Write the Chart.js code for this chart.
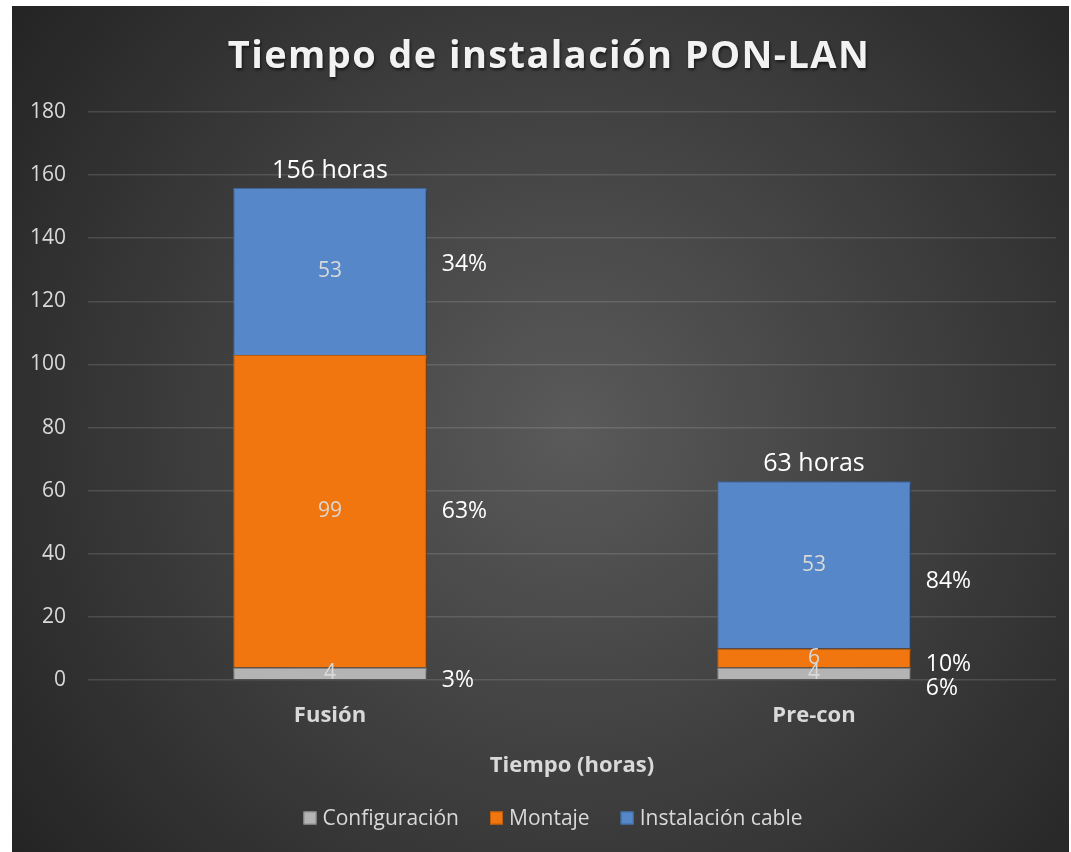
<!DOCTYPE html>
<html><head><meta charset="utf-8">
<script src="https://cdn.jsdelivr.net/npm/chart.js@4.4.1/dist/chart.umd.min.js"></script>
<style>html,body{margin:0;padding:0;background:#fff;}#wrap{position:absolute;left:12px;top:6px;width:1057px;height:846px;}</style>
</head><body><div id="wrap"><canvas id="c" width="1057" height="846"></canvas></div>
<script>
const chartTitle = 'Tiempo de instalación PON-LAN';
const axisTitle = 'Tiempo (horas)';
const categories = ['Fusión', 'Pre-con'];
const seriesNames = ['Configuración', 'Montaje', 'Instalación cable'];
const configuracion = [4, 4];
const montaje = [99, 6];
const instalacionCable = [53, 53];
const totalSuffix = ' horas';
const yMin = 0, yMax = 180, yStep = 20;

const seriesValues = [configuracion, montaje, instalacionCable];
const FONT = "'Open Sans', sans-serif";
const seriesStyle = [
  {bg: '#b4b4b4', border: '#8a8a8a'},
  {bg: '#f1760f', border: '#c0600c'},
  {bg: '#5587c9', border: '#3e6ca6'}
];
// per-category, per-series vertical nudges of the percentage labels (px)
const pctNudge = [[7, 0, -7], [15, 7, 17]];

const bgPlugin = {
  id: 'bg',
  beforeDraw(chart) {
    const {ctx, width, height} = chart;
    const cx = width * 0.53, cy = height * 0.5;
    const g = ctx.createRadialGradient(cx, cy, 0, cx, cy, 700);
    g.addColorStop(0, '#5a5a5a');
    g.addColorStop(1, '#242424');
    ctx.save();
    ctx.fillStyle = g;
    ctx.fillRect(0, 0, width, height);
    ctx.restore();
  },
  beforeDatasetsDraw(chart) {
    const ctx = chart.ctx;
    ctx.save();
    ctx.shadowColor = 'rgba(0,0,0,0.45)';
    ctx.shadowBlur = 4;
    ctx.shadowOffsetX = 2;
    ctx.shadowOffsetY = 2;
  },
  afterDatasetsDraw(chart) {
    const ctx = chart.ctx;
    ctx.restore();
    ctx.save();
    categories.forEach((cat, i) => {
      const total = seriesValues.reduce((s, arr) => s + arr[i], 0);
      seriesValues.forEach((arr, d) => {
        const el = chart.getDatasetMeta(d).data[i];
        const v = arr[i];
        const cy = (el.y + el.base) / 2;
        ctx.font = `21px ${FONT}`;
        ctx.fillStyle = '#d9d9d9';
        ctx.textAlign = 'center';
        ctx.textBaseline = 'middle';
        ctx.fillText(String(v), el.x, cy);
        ctx.font = `23px ${FONT}`;
        ctx.fillStyle = '#ffffff';
        ctx.textAlign = 'left';
        ctx.fillText(Math.round(v / total * 100) + '%', el.x + el.width / 2 + 15, cy + pctNudge[i][d]);
      });
      const topEl = chart.getDatasetMeta(seriesValues.length - 1).data[i];
      ctx.font = `25px ${FONT}`;
      ctx.fillStyle = '#ffffff';
      ctx.textAlign = 'center';
      ctx.textBaseline = 'middle';
      ctx.fillText(total + totalSuffix, topEl.x, topEl.y - 17);
    });
    ctx.restore();
  },
  afterDraw(chart) {
    const ctx = chart.ctx;
    ctx.save();
    ctx.font = `bold 38px ${FONT}`;
    ctx.letterSpacing = '1.4px';
    ctx.fillStyle = '#f2f2f2';
    ctx.textAlign = 'center';
    ctx.textBaseline = 'alphabetic';
    ctx.shadowColor = 'rgba(0,0,0,0.6)';
    ctx.shadowBlur = 3;
    ctx.shadowOffsetX = 1;
    ctx.shadowOffsetY = 2;
    ctx.fillText(chartTitle, 537, 62);
    ctx.restore();
    ctx.save();
    ctx.font = `21px ${FONT}`;
    ctx.textBaseline = 'middle';
    ctx.textAlign = 'left';
    const box = 13, gapBT = 6, gapItem = 31;
    const widths = seriesNames.map(n => box + gapBT + ctx.measureText(n).width);
    const totalW = widths.reduce((a, b) => a + b, 0) + gapItem * (seriesNames.length - 1);
    let x = 541 - totalW / 2;
    const y = 812;
    seriesNames.forEach((n, d) => {
      ctx.fillStyle = seriesStyle[d].bg;
      ctx.fillRect(x, y - box / 2, box, box);
      ctx.strokeStyle = seriesStyle[d].border;
      ctx.lineWidth = 1;
      ctx.strokeRect(x + 0.5, y - box / 2 + 0.5, box - 1, box - 1);
      ctx.fillStyle = '#d9d9d9';
      ctx.fillText(n, x + box + gapBT, y + 1);
      x += widths[d] + gapItem;
    });
    ctx.restore();
  }
};

new Chart(document.getElementById('c'), {
  type: 'bar',
  data: {
    labels: categories,
    datasets: seriesNames.map((n, d) => ({
      label: n,
      data: seriesValues[d],
      backgroundColor: seriesStyle[d].bg,
      borderColor: seriesStyle[d].border,
      borderWidth: 1,
      barPercentage: 0.4,
      categoryPercentage: 1
    }))
  },
  options: {
    responsive: false,
    animation: false,
    devicePixelRatio: 1,
    layout: {padding: {top: 106, left: 0, right: 13, bottom: 61}},
    plugins: {legend: {display: false}, title: {display: false}, tooltip: {enabled: false}},
    scales: {
      x: {
        stacked: true,
        grid: {display: false},
        border: {display: false},
        ticks: {color: '#d9d9d9', font: {family: FONT, size: 22, weight: 'bold'}, padding: 15},
        title: {display: true, text: axisTitle, color: '#d9d9d9', font: {family: FONT, size: 22, weight: 'bold'}, padding: {top: 0, bottom: 12}},
        afterFit(scale) { scale.height = 111; }
      },
      y: {
        stacked: true,
        min: yMin, max: yMax,
        grid: {color: 'rgba(255,255,255,0.13)', lineWidth: 1.5, drawTicks: false},
        border: {display: false},
        ticks: {stepSize: yStep, color: '#d9d9d9', font: {family: FONT, size: 21}, padding: 22},
        afterFit(scale) { scale.width = 76; }
      }
    }
  },
  plugins: [bgPlugin]
});
</script></body></html>
